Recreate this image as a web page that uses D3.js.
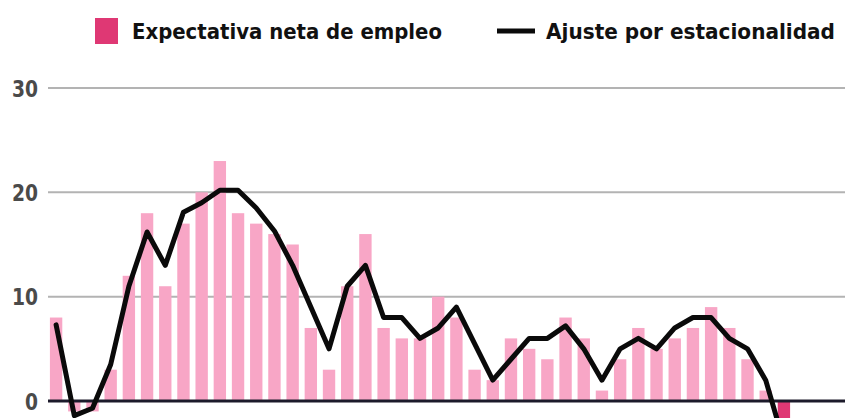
<!DOCTYPE html>
<html>
<head>
<meta charset="utf-8">
<script src="https://cdn.jsdelivr.net/npm/d3@7"></script>
<style>
  html, body { margin: 0; padding: 0; background: #fff; }
  svg { display: block; }
  text { font-family: "DejaVu Sans Condensed", "DejaVu Sans", sans-serif; font-stretch: condensed; }
</style>
</head>
<body>
<svg id="chart" width="851" height="418"></svg>
<script>
// ---- data ----
const periods = d3.range(41).map(i => "P" + (i + 1));
const expectativa = [8, -1, -1, 3, 12, 18, 11, 17, 20, 23, 18, 17, 16, 15, 7, 3, 11, 16, 7, 6,
                     6, 10, 8, 3, 2, 6, 5, 4, 8, 6, 1, 4, 7, 5, 6, 7, 9, 7, 4, 1, -3];
const ajuste = [7.3, -1.4, -0.7, 3.5, 11, 16.2, 13, 18.1, 19, 20.2, 20.2, 18.5, 16.3, 13, 9, 5, 11, 13, 8, 8,
                6, 7, 9, 5.5, 2, 4, 6, 6, 7.2, 5, 2, 5, 6, 5, 7, 8, 8, 6, 5, 2, -4];
const yTicks = [0, 10, 20, 30];
const legendLabels = ["Expectativa neta de empleo", "Ajuste por estacionalidad"];

// ---- setup ----
const svg = d3.select("#chart");
const pink = "#f8a6c6", pinkDark = "#df3874";

const x = d3.scaleBand().domain(periods).range([47, 793]).paddingInner(0.32).paddingOuter(0.16);
const y = d3.scaleLinear().domain([0, 30]).range([401, 88]);

// gridlines + tick labels
const yAxis = d3.axisLeft(y).tickValues(yTicks).tickSize(0).tickPadding(0);
const gAxis = svg.append("g").attr("transform", "translate(38,0)").call(yAxis);
gAxis.select(".domain").remove();
gAxis.selectAll("text")
  .attr("fill", "#4a4a4a")
  .style("font-size", "23px")
  .style("font-weight", "bold")
  .attr("dy", "0.36em")
  .each(function(d) { d3.select(this).attr("textLength", String(d).length * 13).attr("lengthAdjust", "spacingAndGlyphs"); });

svg.append("g").selectAll("line")
  .data(yTicks.filter(d => d !== 0))
  .join("line")
  .attr("x1", 48).attr("x2", 845)
  .attr("y1", d => y(d)).attr("y2", d => y(d))
  .attr("stroke", "#b3b3b3").attr("stroke-width", 2);

// bars
svg.append("g").selectAll("rect")
  .data(expectativa)
  .join("rect")
  .attr("x", (d, i) => x(periods[i]))
  .attr("width", x.bandwidth())
  .attr("y", d => y(Math.max(0, d)))
  .attr("height", d => Math.abs(y(d) - y(0)))
  .attr("fill", (d, i) => i === expectativa.length - 1 ? pinkDark : pink);

// zero line
svg.append("line")
  .attr("x1", 48).attr("x2", 845)
  .attr("y1", y(0)).attr("y2", y(0))
  .attr("stroke", "#1c1a2b").attr("stroke-width", 3);

// seasonal-adjusted line
const line = d3.line()
  .x((d, i) => x(periods[i]) + x.bandwidth() / 2)
  .y(d => y(d));
svg.append("path")
  .datum(ajuste)
  .attr("d", line)
  .attr("fill", "none")
  .attr("stroke", "#0a0a0a")
  .attr("stroke-width", 5)
  .attr("stroke-linejoin", "round")
  .attr("stroke-linecap", "round");

// legend
const lg = svg.append("g");
lg.append("rect").attr("x", 95).attr("y", 18).attr("width", 23).attr("height", 26).attr("fill", pinkDark);
lg.append("text").attr("x", 132).attr("y", 39)
  .text(legendLabels[0])
  .attr("fill", "#111").style("font-size", "22px").style("font-weight", "bold")
  .attr("textLength", 310).attr("lengthAdjust", "spacingAndGlyphs");
lg.append("line").attr("x1", 497).attr("x2", 535).attr("y1", 31).attr("y2", 31)
  .attr("stroke", "#0a0a0a").attr("stroke-width", 5);
lg.append("text").attr("x", 546).attr("y", 39)
  .text(legendLabels[1])
  .attr("fill", "#111").style("font-size", "22px").style("font-weight", "bold")
  .attr("textLength", 289).attr("lengthAdjust", "spacingAndGlyphs");
</script>
</body>
</html>
